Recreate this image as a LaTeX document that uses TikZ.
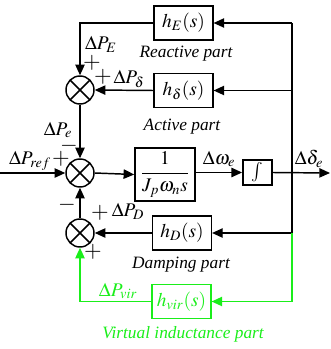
\documentclass[tikz,border=0pt]{standalone}
\usepackage{amsmath}
\usepackage{mathptmx}
\usepackage{fontspec}
\setmainfont{Liberation Serif}
\usetikzlibrary{arrows.meta}
\definecolor{diagink}{HTML}{000000}
\definecolor{virtgreen}{HTML}{1AEE1A}

\tikzset{
  blk/.style={draw, line width=1.1pt, inner sep=1pt, minimum width=44pt, minimum height=25.5pt},
  sumnode/.style={draw, circle, line width=1.1pt, minimum size=21pt, inner sep=0pt,
    path picture={\draw[line width=1.1pt] (path picture bounding box.north west) -- (path picture bounding box.south east)
      (path picture bounding box.north east) -- (path picture bounding box.south west);}},
  sig/.style={line width=1.1pt, -{Triangle[length=8pt,width=7pt]}},
  wire/.style={line width=1.1pt},
  lbl/.style={inner sep=0pt, font=\fontsize{14.5}{16}\selectfont},
  sgn/.style={inner sep=0pt, font=\fontsize{17}{18}\selectfont},
  caption/.style={font=\fontsize{13}{15}\selectfont\itshape},
}

\begin{document}
\begin{tikzpicture}[x=0.75pt, y=-0.75pt, every node/.style={font=\fontsize{14.5}{16}\selectfont, text=diagink}]

  \useasboundingbox (0,0) rectangle (331,349);

  % summing junctions
  \node[sumnode] (sumE) at (80,90) {};
  \node[sumnode] (sumM) at (80,173) {};
  \node[sumnode] (sumD) at (80,233) {};

  % blocks
  \node[blk] (hE) at (183.5,23) {$h_E(s)$};
  \node[blk] (hdel) at (183.5,90.5) {$h_\delta(s)$};
  \node[blk, minimum width=45pt, minimum height=40pt] (plant) at (165,174.5) {$\dfrac{1}{J_p\omega_n s}$};
  \node[blk, minimum width=22pt, minimum height=19pt] (integ) at (257.5,172.5) {$\int$};
  \node[blk] (hD) at (182,233) {$h_D(s)$};
  \node[blk, draw=virtgreen, text=virtgreen] (hvir) at (181.5,301.5) {$h_{vir}(s)$};

  % branch points on the feedback line
  \coordinate (rTop) at (292,23);
  \coordinate (rDel) at (292,90.5);
  \coordinate (rD) at (292,233);
  \coordinate (rV) at (292,301.5);
  \coordinate (in) at (0,173);
  \coordinate (out) at (330,173);

  % forward path
  \draw[sig] (in) -- (sumM.west);
  \draw[sig] (sumM.east) -- (plant.west);
  \draw[sig] (plant.east |- integ.west) -- (integ.west);
  \draw[sig] (integ.east) -- (out);

  % feedback paths
  \draw[wire] (rTop) -- (rD);
  \draw[sig] (rTop) -- (hE.east);
  \draw[sig] (rDel) -- (hdel.east);
  \draw[sig] (rD) -- (hD.east);
  \draw[sig] (hE.west) -| (sumE.north);
  \draw[sig] (hdel.west) -- (sumE.east);
  \draw[sig] (sumE.south) -- (sumM.north);
  \draw[sig] (hD.west) -- (sumD.east);
  \draw[sig] (sumD.north) -- (sumM.south);

  % virtual inductance loop
  \draw[wire, virtgreen] (rD) -- (rV);
  \draw[sig, virtgreen] (rV) -- (hvir.east);
  \draw[sig, virtgreen] (hvir.west) -| (sumD.south);

  % signal labels and signs
  \node[lbl] (lPE) at (101,44) {$\Delta P_E$};
  \node[sgn] (sgE1) at (92,63) {$+$};
  \node[sgn] (sgE2) at (103,77) {$+$};
  \node[lbl] (lPdel) at (129,79) {$\Delta P_\delta$};
  \node[lbl] (lPe) at (58,130) {$\Delta P_e$};
  \node[sgn] (sgM1) at (69,145.5) {$-$};
  \node[sgn] (sgM2) at (61,158.5) {$+$};
  \node[lbl] (lPref) at (30,161) {$\Delta P_{ref}$};
  \node[sgn] (sgM3) at (67,205) {$-$};
  \node[lbl] (lw) at (219,159) {$\Delta\omega_e$};
  \node[lbl] (ldel) at (309,159) {$\Delta\delta_e$};
  \node[sgn] (sgD1) at (100,213) {$+$};
  \node[lbl] (lPD) at (128,211) {$\Delta P_D$};
  \node[sgn] (sgD2) at (93,252) {$+$};
  \node[lbl, text=virtgreen] (lPvir) at (118,291) {$\Delta P_{vir}$};

  % part captions
  \node[caption] (cRe) at (186,54) {Reactive part};
  \node[caption] (cAc) at (182,127) {Active part};
  \node[caption] (cDa) at (181,265) {Damping part};
  \node[caption, text=virtgreen] (cVi) at (183,334) {Virtual inductance part};

\end{tikzpicture}
\end{document}
